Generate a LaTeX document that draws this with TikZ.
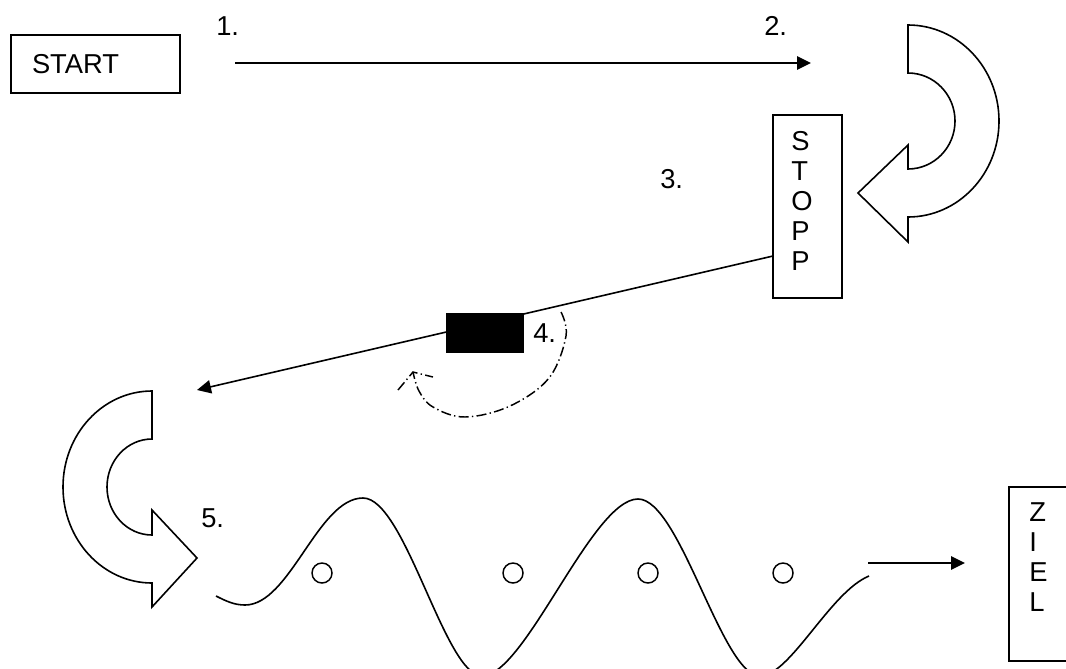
\documentclass[tikz,border=0pt]{standalone}
\usepackage{fontspec}
\setmainfont{Liberation Sans}
\usetikzlibrary{arrows.meta,positioning,calc}

\tikzset{
  box/.style={draw, line width=1.2pt, inner sep=0pt},
  flow/.style={line width=1.2pt, -{Triangle[length=10.5pt,width=10pt]}},
  bigarrow/.style={draw, line width=1.2pt, line join=miter},
  wave/.style={line width=1.2pt},
  stepno/.style={anchor=base west, inner sep=0pt},
  letters/.style={anchor=north west, inner sep=0pt, align=left},
  dashdot/.style={line width=1.1pt, dash pattern=on 7.5pt off 2.5pt on 1pt off 2.5pt},
}

\begin{document}
\begin{tikzpicture}[x=0.75pt,y=-0.75pt,font=\fontsize{20.5}{22.5}\selectfont]
  \useasboundingbox (0,0) rectangle (1066,668);
  \clip (0,0) rectangle (1066,668);

  % boxes
  \node[box, minimum width=126.75pt, minimum height=43.5pt, inner xsep=15.75pt,
        text width=95.25pt, align=left] (start) at (95.5,64) {START};
  \node[box, minimum width=51.75pt, minimum height=137.25pt] (stopp) at (807.5,206.5) {};
  \node[letters] (stopptxt) at ([shift={(19,17)}]stopp.north west) {S\\T\\O\\P\\P};
  \node[box, minimum width=51.75pt, minimum height=130.5pt] (ziel) at (1043.5,574) {};
  \node[letters] (zieltxt) at ([shift={(21,16)}]ziel.north west) {Z\\I\\E\\L};

  % step numbers
  \node[stepno] (n1) at (216,35) {1.};
  \node[stepno] (n2) at (764,35) {2.};
  \node[stepno] (n3) at (660,188) {3.};
  \node[stepno] (n4) at (533,342) {4.};
  \node[stepno] (n5) at (201,527) {5.};

  % 1. -> 2.
  \coordinate (a1) at (235,63);
  \coordinate (a2) at (811,63);
  \draw[flow] (a1) -- (a2);

  % turn at 2.
  \draw[bigarrow] (908,25) arc[start angle=-90, end angle=90, x radius=91, y radius=96]
    -- (908,242) -- (858,193) -- (908,145) -- (908,169)
    arc[start angle=90, end angle=-90, x radius=47, y radius=48] -- cycle;

  % STOPP -> left
  \coordinate (a3) at (773,256);
  \coordinate (a4) at (197,390);
  \draw[flow] (a3) -- (a4);
  \node[fill=black, minimum width=58.5pt, minimum height=30pt, inner sep=0pt] (blk) at (485,333) {};

  % turning back at 4.
  \coordinate (tip) at (413,372);
  \draw[dashdot] plot[smooth, tension=0.6] coordinates
    {(561,312) (566,336) (549,378) (510,406) (465,417) (433,407) (419,391) (tip)};
  \draw[dashdot] (398,390) -- (tip) -- (433,377);

  % turn at 5.
  \draw[bigarrow] (152,391) arc[start angle=-90, end angle=-270, x radius=89, y radius=96]
    -- (152,607) -- (197,558) -- (152,510) -- (152,535)
    arc[start angle=90, end angle=270, x radius=45, y radius=48] -- cycle;

  % wavy road
  \draw[wave] (216,596) .. controls (226,601) and (234,605) .. (245,605)
    .. controls (290,605) and (318,498) .. (363,498)
    .. controls (405,498) and (445,676) .. (482,676)
    .. controls (525,676) and (592,499) .. (638,499)
    .. controls (680,499) and (722,676) .. (760,676)
    .. controls (790,676) and (830,592) .. (869,576);
  \foreach \cx [count=\i] in {322,513,648,783}
    \node[circle, draw, line width=1.1pt, minimum size=15pt, inner sep=0pt] (dot\i) at (\cx,573) {};

  % to ZIEL
  \coordinate (a5) at (868,563);
  \coordinate (a6) at (965,563);
  \draw[flow] (a5) -- (a6);
\end{tikzpicture}
\end{document}
